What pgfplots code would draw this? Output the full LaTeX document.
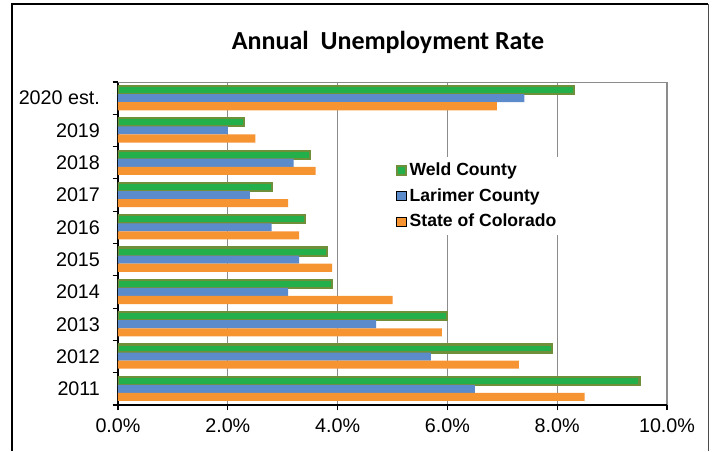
\documentclass[border=0pt]{standalone}
\usepackage{fontspec}
\setmainfont{Liberation Sans}
\newfontfamily\titlefont{Carlito}
\usepackage{pgfplots}
\usepackage{pgfplotstable}
\pgfplotsset{compat=1.18}

\definecolor{weldgreen}{HTML}{23B04B}
\definecolor{weldedge}{HTML}{6F8F3A}
\definecolor{larblue}{HTML}{5B8BCB}
\definecolor{coorange}{HTML}{F79432}
\definecolor{gridgray}{HTML}{8C8C8C}

% pos: 0 = 2011 ... 9 = 2020 est.
\pgfplotstableread{
pos weld larimer colorado
0 9.5 6.5 8.5
1 7.9 5.7 7.3
2 6.0 4.7 5.9
3 3.9 3.1 5.0
4 3.8 3.3 3.9
5 3.4 2.8 3.3
6 2.8 2.4 3.1
7 3.5 3.2 3.6
8 2.3 2.0 2.5
9 8.3 7.4 6.9
}\rates

\begin{document}
\begin{tikzpicture}
% picture is 713x451 px at 0.75pt per px, axis corner at origin
\path[use as bounding box] (-88.5pt,-34.5pt) rectangle (446.25pt,303.75pt);
\draw[black, line width=1.1pt] (-79.5pt,-34.5pt) -- (-79.5pt,300.75pt) -- (442.5pt,300.75pt);
\draw[black!70, line width=0.6pt] (442.5pt,300.75pt) -- (442.5pt,-34.5pt);

\node[font=\titlefont\bfseries\fontsize{19.5}{23}\selectfont] at (202.5pt,272.25pt) {Annual\ \ Unemployment Rate};

\begin{axis}[
    at={(0pt,0pt)}, anchor=south west,
    scale only axis,
    width=411.75pt, height=242.25pt,
    xbar, bar width=0.25,
    xmin=0, xmax=10,
    ymin=-0.5, ymax=9.5,
    axis lines*=left,
    axis line style={-, black, line width=0.8pt},
    tick align=outside,
    xtick={0,2,...,10},
    xticklabels={0.0\%,2.0\%,4.0\%,6.0\%,8.0\%,10.0\%},
    ytick={0,...,9},
    yticklabels={2011,2012,2013,2014,2015,2016,2017,2018,2019,2020 est.},
    minor ytick={-0.5,0.5,...,9.5},
    major y tick style={draw=none},
    minor y tick style={black, line width=0.8pt},
    major x tick style={black, line width=0.8pt},
    major tick length=4pt, minor tick length=4pt,
    xmajorgrids,
    major grid style={gridgray, line width=0.9pt},
    tick label style={font=\fontsize{14.8}{17}\selectfont},
    yticklabel style={xshift=-6pt},
    xticklabel style={yshift=-3pt},
    legend style={at={(0.505,0.77)}, anchor=north west, draw=none, fill=white,
        font=\bfseries\fontsize{13.2}{15}\selectfont, row sep=4pt,
        inner xsep=0pt, inner ysep=3pt},
    legend cell align=left,
    legend image code/.code={\draw[#1, bar shift=0pt] (0pt,-3.5pt) rectangle (7pt,3.5pt);},
]
\addplot[fill=weldgreen, draw=weldedge, line width=1.6pt, bar shift=0.25] table[x=weld, y=pos] {\rates};
\addplot[fill=larblue, draw=none, bar shift=0] table[x=larimer, y=pos] {\rates};
\addplot[fill=coorange, draw=none, bar shift=-0.25] table[x=colorado, y=pos] {\rates};
\legend{Weld County, Larimer County, State of Colorado}
\draw[gridgray, line width=0.9pt] (rel axis cs:0,1) -- (rel axis cs:1,1);
\end{axis}
\end{tikzpicture}
\end{document}
